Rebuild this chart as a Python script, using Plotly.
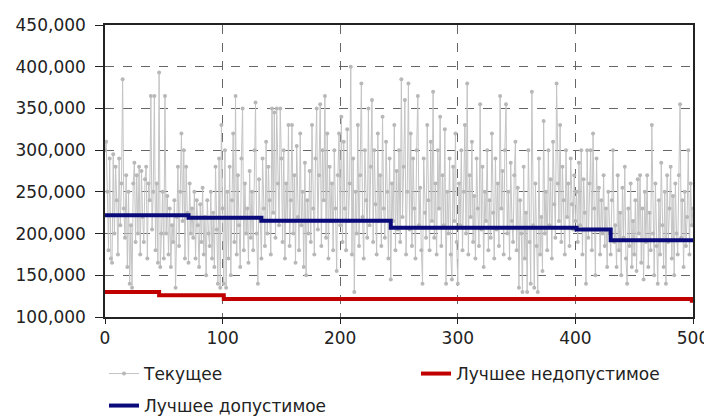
import plotly.graph_objects as go

iterations = list(range(0, 501))

current = [
    300000, 310000, 250000, 180000, 290000, 170000, 165000, 295000, 200000, 280000, 240000, 175000, 290000, 210000, 260000, 385000, 230000, 195000, 270000, 160000, 250000, 140000, 210000, 135000, 260000,
    285000, 190000, 270000, 200000, 280000, 175000, 275000, 220000, 190000, 265000, 280000, 170000, 260000, 240000, 365000, 205000, 250000, 365000, 180000, 260000, 165000, 393000, 160000, 200000, 250000,
    170000, 365000, 200000, 245000, 175000, 230000, 160000, 210000, 190000, 240000, 135000, 220000, 280000, 185000, 250000, 320000, 215000, 300000, 170000, 280000, 225000, 165000, 260000, 200000, 230000,
    195000, 250000, 170000, 240000, 210000, 160000, 235000, 190000, 255000, 175000, 220000, 150000, 240000, 200000, 185000, 250000, 170000, 225000, 160000, 280000, 205000, 140000, 290000, 135000, 330000,
    230000, 140000, 300000, 135000, 250000, 170000, 280000, 150000, 240000, 320000, 190000, 365000, 175000, 270000, 210000, 160000, 290000, 350000, 180000, 260000, 200000, 230000, 165000, 275000, 195000,
    250000, 180000, 300000, 357000, 200000, 140000, 265000, 215000, 170000, 290000, 230000, 185000, 310000, 200000, 280000, 240000, 175000, 350000, 225000, 345000, 195000, 350000, 260000, 210000, 350000,
    290000, 190000, 300000, 170000, 260000, 215000, 330000, 185000, 240000, 330000, 200000, 270000, 165000, 305000, 220000, 180000, 320000, 210000, 250000, 160000, 285000, 150000, 240000, 200000, 275000,
    190000, 330000, 230000, 175000, 290000, 350000, 205000, 270000, 355000, 185000, 300000, 240000, 365000, 195000, 320000, 170000, 280000, 215000, 260000, 180000, 300000, 230000, 155000, 270000, 320000,
    210000, 340000, 190000, 310000, 230000, 180000, 325000, 215000, 260000, 400000, 175000, 290000, 130000, 250000, 200000, 330000, 185000, 270000, 380000, 220000, 170000, 300000, 240000, 195000, 350000,
    210000, 280000, 360000, 190000, 300000, 235000, 175000, 320000, 215000, 270000, 185000, 340000, 230000, 195000, 310000, 250000, 170000, 290000, 145000, 260000, 215000, 330000, 180000, 275000, 205000,
    300000, 190000, 385000, 220000, 280000, 360000, 175000, 250000, 380000, 205000, 320000, 185000, 290000, 230000, 170000, 300000, 365000, 210000, 255000, 180000, 140000, 290000, 225000, 195000, 330000,
    240000, 180000, 310000, 215000, 370000, 195000, 260000, 175000, 300000, 230000, 340000, 185000, 270000, 210000, 325000, 140000, 250000, 200000, 290000, 175000, 145000, 280000, 215000, 320000, 190000,
    140000, 260000, 210000, 300000, 180000, 250000, 330000, 200000, 380000, 175000, 270000, 220000, 310000, 190000, 245000, 170000, 290000, 230000, 185000, 355000, 205000, 280000, 160000, 250000, 215000,
    300000, 180000, 240000, 195000, 320000, 225000, 170000, 290000, 205000, 260000, 185000, 365000, 230000, 275000, 175000, 300000, 355000, 200000, 250000, 170000, 285000, 215000, 190000, 270000, 310000,
    180000, 255000, 135000, 240000, 200000, 130000, 280000, 170000, 225000, 130000, 300000, 190000, 140000, 370000, 210000, 135000, 260000, 185000, 130000, 290000, 175000, 220000, 155000, 335000, 200000,
    250000, 180000, 300000, 210000, 265000, 170000, 310000, 235000, 195000, 380000, 260000, 215000, 330000, 190000, 280000, 240000, 175000, 300000, 220000, 260000, 185000, 290000, 235000, 205000, 270000,
    215000, 250000, 190000, 285000, 210000, 300000, 175000, 265000, 225000, 140000, 300000, 195000, 260000, 300000, 180000, 320000, 230000, 150000, 290000, 205000, 255000, 175000, 240000, 200000, 270000,
    185000, 230000, 160000, 250000, 200000, 175000, 240000, 300000, 190000, 210000, 160000, 270000, 180000, 225000, 150000, 255000, 195000, 280000, 170000, 140000, 230000, 185000, 260000, 160000, 215000,
    175000, 240000, 155000, 265000, 200000, 270000, 165000, 230000, 145000, 250000, 190000, 270000, 160000, 225000, 180000, 330000, 200000, 150000, 260000, 185000, 140000, 240000, 175000, 285000, 210000,
    160000, 250000, 140000, 270000, 190000, 230000, 280000, 170000, 245000, 150000, 260000, 200000, 175000, 270000, 355000, 195000, 240000, 160000, 250000, 185000, 220000, 300000, 175000, 260000, 210000,
    230000,
]

best_infeasible_x = [0, 46, 101, 499, 500]
best_infeasible_y = [130000, 126000, 121500, 119500, 119500]

best_feasible_x = [0, 71, 133, 243, 401, 430, 500]
best_feasible_y = [222000, 219000, 215500, 207000, 205000, 192000, 192000]

names = ["Текущее", "Лучшее недопустимое", "Лучшее допустимое"]

# The page body has an 8px default margin, so the figure is sized 704x412
# and sits at (8, 8) inside the 712x420 window.
W, H = 704, 412

fig = go.Figure()
fig.add_trace(go.Scatter(
    x=iterations, y=current, name=names[0], mode="lines+markers",
    line=dict(color="#c4c4c4", width=1),
    marker=dict(color="#b8b8b8", size=4),
    legend="legend",
))
fig.add_trace(go.Scatter(
    x=best_infeasible_x, y=best_infeasible_y, name=names[1], mode="lines",
    line=dict(color="#c00000", width=4, shape="hv"),
    legend="legend3",
))
fig.add_trace(go.Scatter(
    x=best_feasible_x, y=best_feasible_y, name=names[2], mode="lines",
    line=dict(color="#0a0a7a", width=4, shape="hv"),
    legend="legend2",
))

axis_common = dict(
    showline=True, linecolor="#222222", linewidth=1.5, mirror=True,
    ticks="outside", tickcolor="#222222",
    showgrid=True, gridcolor="#666666", griddash="dash", gridwidth=1,
    zeroline=False,
    tickfont=dict(family="DejaVu Sans", size=17, color="#222222"),
)

legend_common = dict(
    orientation="h", xref="container", yref="container",
    xanchor="left", yanchor="middle",
    font=dict(family="DejaVu Sans", size=17, color="#222222"),
    bgcolor="rgba(0,0,0,0)",
)

fig.update_layout(
    width=W, height=H,
    margin=dict(l=97, r=19, t=17, b=103, autoexpand=False),
    paper_bgcolor="white", plot_bgcolor="white",
    font=dict(family="DejaVu Sans", size=17, color="#222222"),
    xaxis=dict(range=[0, 500], dtick=100, tick0=0, ticklen=5, ticklabelstandoff=0, **axis_common),
    yaxis=dict(range=[100000, 450000], dtick=50000, tick0=100000, tickformat=",",
               ticklen=8, ticklabelstandoff=6, **axis_common),
    legend=dict(x=96 / W, y=(H - 366) / H, **legend_common),
    legend2=dict(x=96 / W, y=(H - 398) / H, **legend_common),
    legend3=dict(x=408 / W, y=(H - 366) / H, **legend_common),
    showlegend=True,
)

fig.write_html("out.html")
